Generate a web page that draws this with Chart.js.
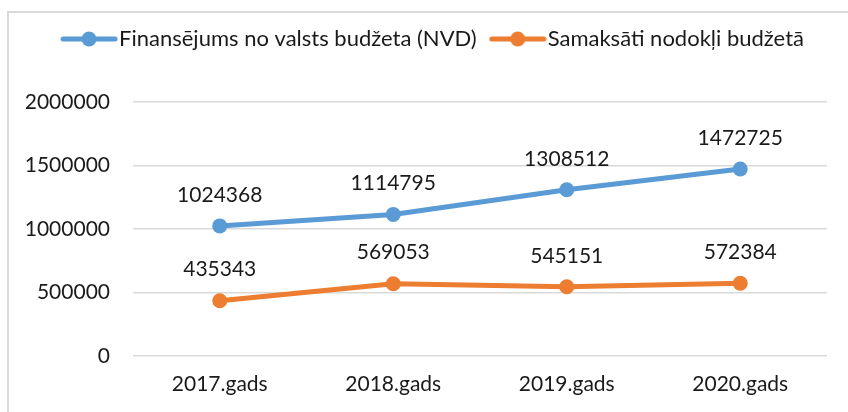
<!DOCTYPE html>
<html>
<head>
<meta charset="utf-8">
<script src="https://cdn.jsdelivr.net/npm/chart.js@4.4.0/dist/chart.umd.min.js"></script>
<style>
  html, body { margin: 0; padding: 0; background: #fff; overflow: hidden; }
  #wrap { position: relative; width: 848px; height: 412px; }
  #frame { position: absolute; left: 7px; top: 11px; width: 900px; height: 500px; border: 2px solid #d9d9d9; box-sizing: border-box; }
  #myChart { position: absolute; left: 0; top: 0; }
</style>
</head>
<body>
<div id="wrap">
  <div id="frame"></div>
  <canvas id="myChart" width="848" height="412"></canvas>
</div>
<script>
var years = ["2017.gads", "2018.gads", "2019.gads", "2020.gads"];
var nvdLabel = "Finansējums no valsts budžeta (NVD)";
var nvdValues = [1024368, 1114795, 1308512, 1472725];
var taxLabel = "Samaksāti nodokļi budžetā";
var taxValues = [435343, 569053, 545151, 572384];
var yTicks = [0, 500000, 1000000, 1500000, 2000000];

var blue = "#5b9bd5";
var orange = "#ed7d31";
var textColor = "#1a1a1a";
var fontFamily = "Lato, 'Open Sans', sans-serif";

function makeMarker(color) {
    var c = document.createElement("canvas");
    c.width = 58;
    c.height = 18;
    var g = c.getContext("2d");
    g.strokeStyle = color;
    g.lineWidth = 5;
    g.lineCap = "round";
    g.beginPath();
    g.moveTo(3, 9);
    g.lineTo(55, 9);
    g.stroke();
    g.fillStyle = color;
    g.beginPath();
    g.arc(29, 9, 7.5, 0, Math.PI * 2);
    g.fill();
    return c;
}
var markers = [makeMarker(blue), makeMarker(orange)];

// value labels above each point
var valueLabels = {
    id: "valueLabels",
    afterDatasetsDraw: function (chart) {
        var ctx = chart.ctx;
        ctx.save();
        ctx.font = "21px " + fontFamily;
        ctx.fillStyle = textColor;
        ctx.textAlign = "center";
        ctx.textBaseline = "middle";
        chart.data.datasets.forEach(function (ds, i) {
            chart.getDatasetMeta(i).data.forEach(function (pt, j) {
                ctx.fillText(String(ds.data[j]), pt.x, pt.y - 31);
            });
        });
        ctx.restore();
    }
};

Chart.defaults.font.family = fontFamily;
Chart.defaults.font.size = 21;
Chart.defaults.color = textColor;

var ctx = document.getElementById("myChart").getContext("2d");
var myChart = new Chart(ctx, {
    type: "line",
    data: {
        labels: years,
        datasets: [{
            label: nvdLabel,
            data: nvdValues,
            borderColor: blue,
            backgroundColor: blue,
            borderWidth: 5,
            pointRadius: 7.5,
            pointHoverRadius: 7.5,
            pointBorderWidth: 0,
            tension: 0
        }, {
            label: taxLabel,
            data: taxValues,
            borderColor: orange,
            backgroundColor: orange,
            borderWidth: 5,
            pointRadius: 7.5,
            pointHoverRadius: 7.5,
            pointBorderWidth: 0,
            tension: 0
        }]
    },
    options: {
        responsive: false,
        animation: false,
        layout: { padding: { left: 26, right: 0, top: 6, bottom: 0 } },
        plugins: {
            tooltip: { enabled: false },
            legend: {
                display: true,
                position: "top",
                labels: {
                    usePointStyle: true,
                    pointStyleWidth: 38,
                    padding: 22,
                    color: textColor,
                    font: { size: 22 },
                    generateLabels: function (chart) {
                        var items = Chart.defaults.plugins.legend.labels.generateLabels(chart);
                        items.forEach(function (it) { it.pointStyle = markers[it.datasetIndex]; });
                        return items;
                    }
                }
            }
        },
        scales: {
            x: {
                type: "category",
                offset: true,
                grid: { display: false, drawTicks: false },
                border: { display: false },
                ticks: { padding: 16, color: textColor },
                afterFit: function (s) { s.height = 56; }
            },
            xTop: {
                type: "category",
                position: "top",
                display: true,
                grid: { display: false, drawTicks: false },
                border: { display: false },
                ticks: { display: false },
                afterFit: function (s) { s.height = 42; }
            },
            y: {
                min: 0,
                max: 2000000,
                afterBuildTicks: function (s) { s.ticks = yTicks.map(function (v) { return { value: v }; }); },
                grid: { color: "#d9d9d9", lineWidth: 1.5, drawTicks: false },
                border: { display: false },
                ticks: {
                    padding: 23,
                    color: textColor,
                    callback: function (v) { return String(v); }
                },
                afterFit: function (s) { s.width = 107; }
            },
            yRight: {
                position: "right",
                display: true,
                grid: { display: false, drawTicks: false },
                border: { display: false },
                ticks: { display: false },
                afterFit: function (s) { s.width = 21; }
            }
        }
    },
    plugins: [valueLabels]
});
</script>
</body>
</html>
